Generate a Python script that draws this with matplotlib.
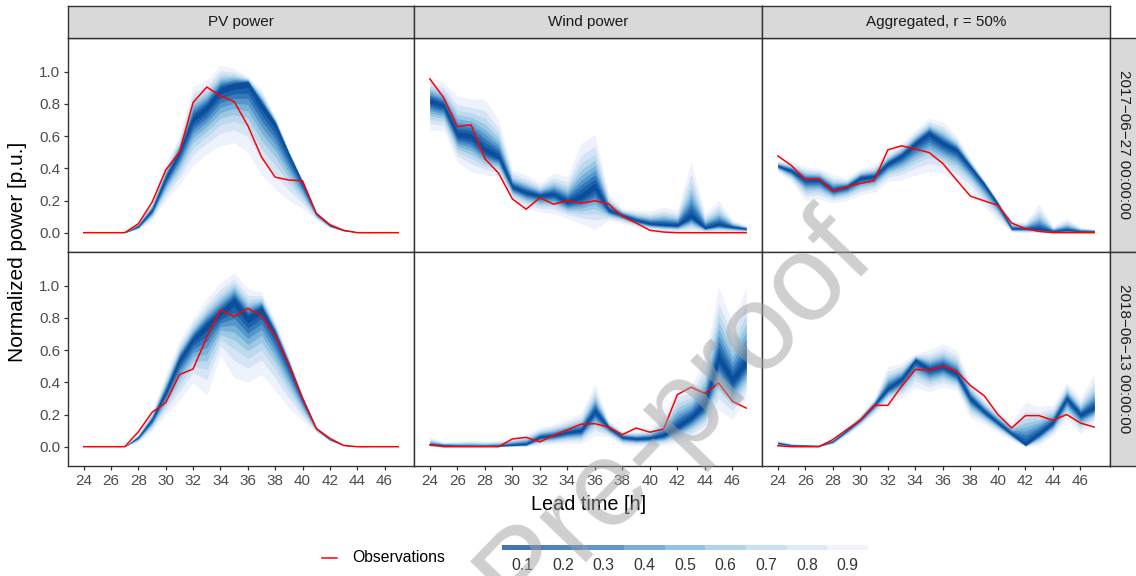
import numpy as np
import matplotlib.pyplot as plt
from statistics import NormalDist

# lead times and facet labels
hours = np.arange(24, 48)
col_labels = ['PV power', 'Wind power', 'Aggregated, r = 50%']
row_labels = ['2017\u221206\u221227 00:00:00', '2018\u221206\u221213 00:00:00']
levels = [0.1, 0.2, 0.3, 0.4, 0.5, 0.6, 0.7, 0.8, 0.9]
band_colors = ['#0b4f9c', '#1c61aa', '#3479bb', '#5597cc', '#78b2da',
               '#9cc8e4', '#bcd9ee', '#d6e5f5', '#eef2fc']

# 2017-06-27, PV
pv1_obs = [0, 0, 0, 0, 0.056, 0.19, 0.39, 0.50, 0.81, 0.905, 0.85, 0.815,
           0.665, 0.47, 0.345, 0.327, 0.323, 0.12, 0.05, 0.015, 0, 0, 0, 0]
pv1_med = [0, 0, 0, 0, 0.04, 0.14, 0.34, 0.5, 0.71, 0.78, 0.89, 0.92,
           0.935, 0.8, 0.68, 0.49, 0.31, 0.12, 0.045, 0.015, 0.005, 0, 0, 0]
pv1_hi = [0, 0, 0, 0, 0.07, 0.2, 0.43, 0.6, 0.91, 0.95, 1.04, 1.02,
          0.97, 0.89, 0.72, 0.51, 0.33, 0.13, 0.055, 0.02, 0.005, 0, 0, 0]
pv1_lo = [0, 0, 0, 0, 0.02, 0.08, 0.2, 0.3, 0.42, 0.49, 0.54, 0.56,
          0.5, 0.36, 0.27, 0.2, 0.15, 0.08, 0.03, 0.008, 0, 0, 0, 0]

# 2017-06-27, wind
wd1_obs = [0.956, 0.84, 0.66, 0.67, 0.46, 0.37, 0.21, 0.146, 0.217, 0.177, 0.198, 0.183,
           0.198, 0.18, 0.10, 0.06, 0.015, 0.004, 0, 0, 0, 0, 0, 0]
wd1_med = [0.82, 0.79, 0.61, 0.6, 0.51, 0.47, 0.285, 0.25, 0.23, 0.24, 0.19, 0.22,
           0.285, 0.14, 0.11, 0.077, 0.056, 0.05, 0.046, 0.1, 0.03, 0.05, 0.035, 0.025]
wd1_hi = [0.97, 0.93, 0.85, 0.83, 0.83, 0.70, 0.39, 0.36, 0.31, 0.37, 0.35, 0.556,
          0.61, 0.24, 0.15, 0.14, 0.135, 0.16, 0.14, 0.44, 0.12, 0.2, 0.08, 0.046]
wd1_lo = [0.635, 0.635, 0.44, 0.38, 0.36, 0.35, 0.2, 0.15, 0.13, 0.12, 0.09, 0.056,
          0.02, 0.077, 0.06, 0.035, 0.02, 0.01, 0.005, 0.005, 0.003, 0.003, 0.003, 0.003]

# 2017-06-27, aggregated
ag1_obs = [0.477, 0.417, 0.33, 0.335, 0.258, 0.285, 0.306, 0.323, 0.515, 0.54, 0.52, 0.498,
           0.43, 0.327, 0.227, 0.198, 0.17, 0.06, 0.025, 0.008, 0, 0, 0, 0]
ag1_med = [0.415, 0.385, 0.33, 0.33, 0.265, 0.285, 0.34, 0.35, 0.43, 0.48, 0.556, 0.62,
           0.556, 0.515, 0.41, 0.306, 0.18, 0.025, 0.025, 0.02, 0.01, 0.015, 0.01, 0.01]
ag1_hi = [0.45, 0.44, 0.41, 0.4, 0.36, 0.34, 0.4, 0.42, 0.5, 0.556, 0.64, 0.71,
          0.69, 0.6, 0.46, 0.327, 0.2, 0.077, 0.067, 0.18, 0.04, 0.09, 0.035, 0.023]
ag1_lo = [0.38, 0.317, 0.2, 0.21, 0.185, 0.2, 0.233, 0.254, 0.317, 0.33, 0.358, 0.38,
          0.37, 0.327, 0.265, 0.16, 0.077, 0.004, 0, 0, 0, 0, 0, 0]

# 2018-06-13, PV
pv2_obs = [0, 0, 0, 0, 0.093, 0.214, 0.274, 0.448, 0.483, 0.68, 0.85, 0.81,
           0.86, 0.813, 0.69, 0.51, 0.3, 0.114, 0.052, 0.008, 0, 0, 0, 0]
pv2_med = [0, 0, 0, 0, 0.06, 0.17, 0.34, 0.54, 0.67, 0.757, 0.83, 0.91,
           0.8, 0.86, 0.705, 0.51, 0.3, 0.114, 0.045, 0.01, 0.002, 0, 0, 0]
pv2_hi = [0, 0, 0, 0, 0.08, 0.22, 0.45, 0.66, 0.8, 0.92, 1.02, 1.08,
          0.98, 0.96, 0.78, 0.56, 0.32, 0.12, 0.05, 0.012, 0.002, 0, 0, 0]
pv2_lo = [0, 0, 0, 0, 0.03, 0.1, 0.2, 0.29, 0.4, 0.32, 0.57, 0.43,
          0.4, 0.45, 0.35, 0.24, 0.16, 0.09, 0.035, 0.005, 0, 0, 0, 0]

# 2018-06-13, wind
wd2_obs = [0.012, 0, 0, 0, 0, 0, 0.048, 0.058, 0.03, 0.07, 0.105, 0.14,
           0.143, 0.122, 0.075, 0.116, 0.09, 0.11, 0.324, 0.37, 0.33, 0.396, 0.282, 0.24]
wd2_med = [0.012, 0.01, 0.005, 0.003, 0.003, 0.005, 0.01, 0.015, 0.06, 0.07, 0.09, 0.1,
           0.22, 0.12, 0.06, 0.05, 0.055, 0.07, 0.12, 0.18, 0.26, 0.55, 0.41, 0.52]
wd2_hi = [0.06, 0.03, 0.035, 0.04, 0.035, 0.04, 0.06, 0.08, 0.12, 0.14, 0.17, 0.21,
          0.39, 0.16, 0.1, 0.1, 0.11, 0.2, 0.36, 0.38, 0.55, 0.99, 0.77, 0.99]
wd2_lo = [0, 0, 0, 0, 0, 0, 0, 0, 0.01, 0.015, 0.02, 0.02,
          0.07, 0.06, 0.01, 0.005, 0.005, 0.01, 0.02, 0.05, 0.1, 0.23, 0.17, 0.3]

# 2018-06-13, aggregated
ag2_obs = [0.006, 0, 0, 0, 0.044, 0.106, 0.164, 0.257, 0.257, 0.375, 0.48, 0.475,
           0.5, 0.47, 0.38, 0.317, 0.2, 0.116, 0.193, 0.193, 0.164, 0.2, 0.147, 0.122]
ag2_med = [0.023, 0.01, 0.008, 0.005, 0.033, 0.1, 0.17, 0.26, 0.36, 0.42, 0.54, 0.48,
           0.5, 0.45, 0.3, 0.22, 0.15, 0.08, 0.01, 0.08, 0.15, 0.3, 0.2, 0.24]
ag2_hi = [0.04, 0.02, 0.015, 0.015, 0.05, 0.12, 0.2, 0.3, 0.5, 0.52, 0.58, 0.6,
          0.64, 0.6, 0.4, 0.3, 0.22, 0.15, 0.28, 0.25, 0.26, 0.4, 0.3, 0.45]
ag2_lo = [0, 0, 0, 0, 0.015, 0.07, 0.13, 0.2, 0.28, 0.3, 0.37, 0.34,
          0.37, 0.35, 0.18, 0.14, 0.09, 0.04, 0, 0.01, 0.07, 0.17, 0.08, 0.15]

panels = [
    [(pv1_obs, pv1_med, pv1_lo, pv1_hi), (wd1_obs, wd1_med, wd1_lo, wd1_hi),
     (ag1_obs, ag1_med, ag1_lo, ag1_hi)],
    [(pv2_obs, pv2_med, pv2_lo, pv2_hi), (wd2_obs, wd2_med, wd2_lo, wd2_hi),
     (ag2_obs, ag2_med, ag2_lo, ag2_hi)],
]

plt.rcParams['font.family'] = ['Liberation Sans', 'DejaVu Sans']
W, H = 1136, 576
fig = plt.figure(figsize=(W / 100, H / 100), dpi=100)


def box(x0, y0, x1, y1):
    # pixel box (top-left origin) -> figure fraction rect
    return [x0 / W, 1 - y1 / H, (x1 - x0) / W, (y1 - y0) / H]


col_x = [68, 414, 762, 1110]
row_y = [38, 252, 466]
dark = '#333333'
z90 = NormalDist().inv_cdf(0.95)

for r in range(2):
    for c in range(3):
        ax = fig.add_axes(box(col_x[c], row_y[r], col_x[c + 1], row_y[r + 1]))
        obs, med, lo, hi = (np.array(a, dtype=float) for a in panels[r][c])
        # nested central intervals, widest first
        for lev, colr in sorted(zip(levels, band_colors), reverse=True):
            f = NormalDist().inv_cdf(0.5 + lev / 2) / z90
            ax.fill_between(hours, med - f * (med - lo), med + f * (hi - med),
                            color=colr, lw=0, zorder=2)
        ax.plot(hours, obs, color='#ff0000', lw=1.1, zorder=3)
        ax.set_xlim(22.85, 48.15)
        ax.set_ylim(-0.12, 1.21)
        ax.set_xticks(range(24, 48, 2))
        ax.set_yticks([0, 0.2, 0.4, 0.6, 0.8, 1.0])
        ax.yaxis.set_major_formatter(plt.FormatStrFormatter('%.1f'))
        for s in ax.spines.values():
            s.set_color(dark)
            s.set_linewidth(1.0)
        ax.tick_params(colors=dark, labelcolor='#4d4d4d', labelsize=11,
                       length=3.2, width=0.9, pad=2.5)
        if c > 0:
            ax.tick_params(axis='y', left=False, labelleft=False)
        if r == 0:
            ax.tick_params(axis='x', bottom=False, labelbottom=False)

# facet strips
for c in range(3):
    sx = fig.add_axes(box(col_x[c], 5.5, col_x[c + 1], 38))
    sx.set_facecolor('#d9d9d9')
    sx.set_xticks([])
    sx.set_yticks([])
    for s in sx.spines.values():
        s.set_color(dark)
        s.set_linewidth(1.0)
    sx.text(0.5, 0.5, col_labels[c], ha='center', va='center',
            fontsize=11, color='#1a1a1a', transform=sx.transAxes)

for r in range(2):
    sy = fig.add_axes(box(1110, row_y[r], 1140, row_y[r + 1]))
    sy.set_facecolor('#d9d9d9')
    sy.set_xticks([])
    sy.set_yticks([])
    for s in sy.spines.values():
        s.set_color(dark)
        s.set_linewidth(1.0)
    fig.text(1124 / W, 1 - (row_y[r] + row_y[r + 1]) / 2 / H, row_labels[r],
             rotation=-90, ha='center', va='center', fontsize=11, color='#1a1a1a')

# axis titles
fig.text(589 / W, 1 - 505 / H, 'Lead time [h]', ha='center', va='center', fontsize=14.3)
fig.text(18 / W, 1 - 252 / H, 'Normalized power [p.u.]', rotation=90,
         ha='center', va='center', fontsize=15)

# legend: observations
lg = fig.add_axes(box(0, 0, W, H), facecolor='none')
lg.set_xlim(0, W)
lg.set_ylim(H, 0)
lg.axis('off')
lg.plot([322, 337], [558, 558], color='#ff0000', lw=1.1)
lg.text(352, 558, 'Observations', ha='left', va='center', fontsize=11.3)

# legend: quantile colour bar
cb_x0, cb_x1 = 502, 868
seg = (cb_x1 - cb_x0) / len(levels)
for i, (lev, colr) in enumerate(zip(levels, band_colors)):
    lg.add_patch(plt.Rectangle((cb_x0 + i * seg, 545), seg, 4.5, color=colr,
                               alpha=0.78, lw=0))
    lg.text(cb_x0 + (i + 0.5) * seg, 565, f'{lev:.1f}', ha='center', va='center',
            fontsize=11.3, color='#333333')

# journal watermark
fig.text(878 / W, 1 - 260 / H, 'Journal Pre-proof', rotation=46, rotation_mode='anchor',
         ha='right', va='baseline', fontsize=88, color='#a0a0a0', alpha=0.5, zorder=10)

fig.savefig('out.png', dpi=100)
